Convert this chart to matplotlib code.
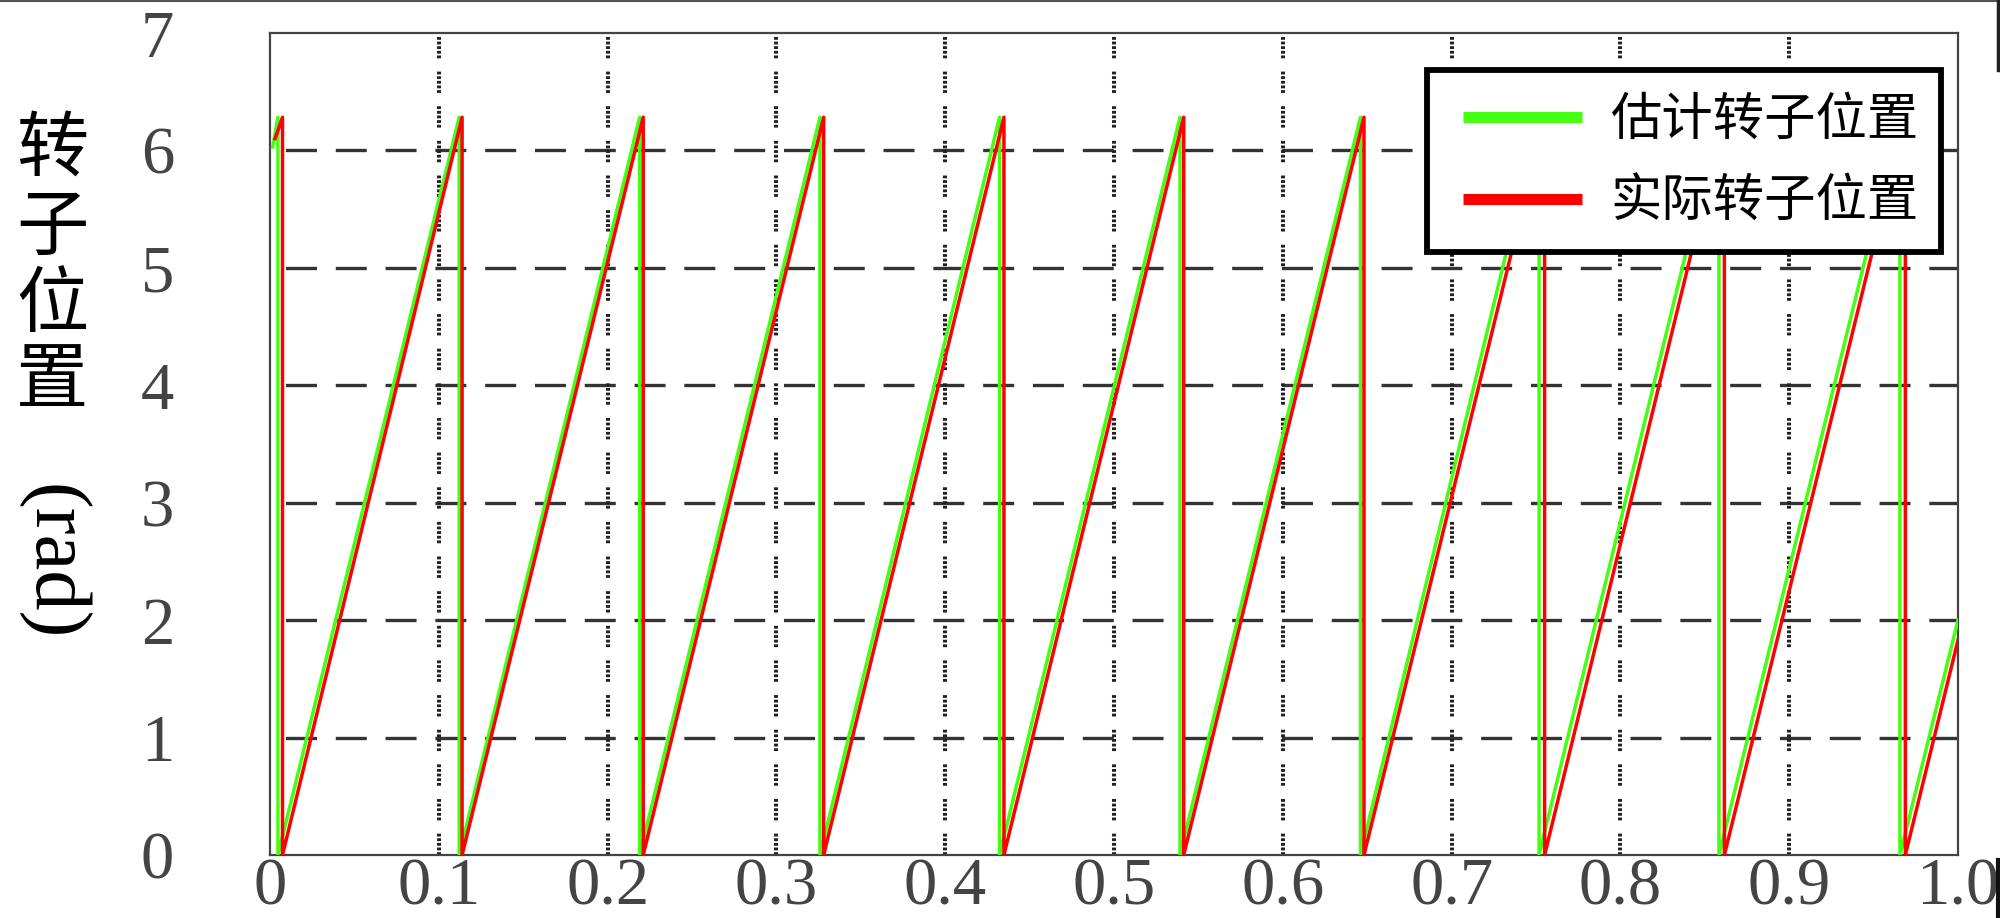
import matplotlib
matplotlib.use('Agg')
import matplotlib.pyplot as plt
from matplotlib.lines import Line2D
from matplotlib.legend_handler import HandlerLine2D

# ---------------- data ----------------
x_ticks = [0, 0.1, 0.2, 0.3, 0.4, 0.5, 0.6, 0.7, 0.8, 0.9, 1.0]
x_tick_labels = ['0', '0.1', '0.2', '0.3', '0.4', '0.5', '0.6', '0.7', '0.8', '0.9', '1.0']
y_ticks = [0, 1, 2, 3, 4, 5, 6, 7]
y_tick_labels = ['0', '1', '2', '3', '4', '5', '6', '7']
h_grid = [1, 2, 3, 4, 5, 6]
v_grid = [0.1, 0.2, 0.3, 0.4, 0.5, 0.6, 0.7, 0.8, 0.9]

peak_value = 6.283  # wrap value (2*pi)

# estimated rotor position (green): wrap instants
est_reset_t = [0.0047, 0.1121, 0.2190, 0.3258, 0.4322, 0.5391, 0.6460, 0.7518, 0.8584, 0.9656]
est_start = (0.0016, 6.03)
est_end = (1.0, 2.00)

# actual rotor position (red): wrap instants
act_reset_t = [0.0074, 0.1138, 0.2211, 0.3280, 0.4348, 0.5413, 0.6481, 0.7551, 0.8616, 0.9688]
act_start = (0.0030, 6.10)
act_end = (1.0, 1.83)

labels = ['估计转子位置', '实际转子位置']
ylabel_chars = ['转', '子', '位', '置']
ylabel_unit = '(rad)'


def vertices(start, resets, end):
    xs, ys = [start[0]], [start[1]]
    for r in resets:
        xs += [r, r]
        ys += [peak_value, 0.0]
    xs.append(end[0])
    ys.append(end[1])
    return xs, ys


W, H = 2000, 918
fig = plt.figure(figsize=(W / 100, H / 100), dpi=100)
ax = fig.add_axes([270 / W, 1 - 855 / H, (1958 - 270) / W, (855 - 33) / H])

ax.set_xlim(0, 1)
ax.set_ylim(0, 7)

# grid lines
for yv in h_grid:
    ax.axhline(yv, color='#333333', lw=2.4,
               linestyle=(10.3, (9.3, 5.64)), zorder=1)
for xv in v_grid:
    ax.axvline(xv, color='#222222', lw=2.9,
               linestyle=(0, (0.7, 0.45, 0.7, 0.45, 0.7, 0.45, 0.7, 0.45, 0.7, 3.3)), zorder=1)

green = '#44ff11'
red = '#ff0000'
gx, gy = vertices(est_start, est_reset_t, est_end)
rx, ry = vertices(act_start, act_reset_t, act_end)
ax.plot(gx, gy, color=green, lw=2.5, label=labels[0], zorder=3)
ax.plot(rx, ry, color=red, lw=2.5, label=labels[1], zorder=4)

# ticks
ax.set_xticks(x_ticks)
ax.set_xticklabels(x_tick_labels)
ax.set_yticks(y_ticks)
ax.set_yticklabels(y_tick_labels)
ax.tick_params(axis='both', length=0, labelsize=48, labelcolor='#444444')
ax.tick_params(axis='y', pad=69)
ax.tick_params(axis='x', pad=2)
for lab in ax.get_xticklabels() + ax.get_yticklabels():
    lab.set_fontfamily('Liberation Serif')

for sp in ax.spines.values():
    sp.set_color('#444444')
    sp.set_linewidth(1.6)

# legend
handles = [Line2D([], [], color=green, lw=8, solid_capstyle='butt'),
           Line2D([], [], color=red, lw=8, solid_capstyle='butt')]
leg = ax.legend(handles, labels, loc='upper left',
                bbox_to_anchor=(1427 / W, 1 - 70 / H), bbox_transform=fig.transFigure,
                prop={'family': 'Noto Sans CJK SC', 'size': 37},
                frameon=True, fancybox=False, framealpha=1, edgecolor='black',
                borderpad=0.45, handlelength=2.82, handletextpad=0.29,
                labelspacing=0.56, borderaxespad=0, numpoints=2,
                handler_map={Line2D: HandlerLine2D(marker_pad=0.25, numpoints=2)})
leg.get_frame().set_linewidth(4.2)
leg.set_zorder(10)

# vertical y-axis label (stacked characters, unit written top-to-bottom)
cjk = ['Noto Sans CJK SC']
for ch, yc in zip(ylabel_chars, [150, 228, 305, 381]):
    fig.text(52 / W, 1 - yc / H, ch, family=cjk, fontsize=52,
             ha='center', va='center', color='black')
fig.text(51 / W, 1 - 562 / H, ylabel_unit, family='Liberation Serif',
         fontsize=58, rotation=-90, ha='center', va='center', color='black')

# screenshot border artifacts
fig.add_artist(Line2D([0, 1], [1 - 1 / H, 1 - 1 / H], transform=fig.transFigure,
                      color='#555555', lw=1.5))
fig.add_artist(Line2D([1998 / W, 1998 / W], [1, 1 - 70 / H], transform=fig.transFigure,
                      color='#222222', lw=2.5))
fig.add_artist(Line2D([1998 / W, 1998 / W], [1 - 860 / H, 0], transform=fig.transFigure,
                      color='#111111', lw=3))

fig.savefig('out.png', dpi=100)
